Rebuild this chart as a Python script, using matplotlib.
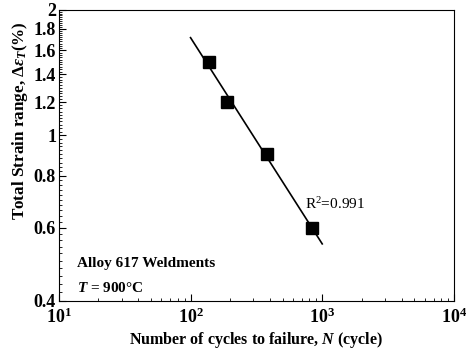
import matplotlib
matplotlib.use('Agg')
import matplotlib.pyplot as plt
import numpy as np
from matplotlib.ticker import FixedLocator, MultipleLocator, NullFormatter, LogLocator

plt.rcParams['font.family'] = 'Liberation Serif'
plt.rcParams['mathtext.fontset'] = 'custom'
plt.rcParams['mathtext.rm'] = 'Liberation Serif'
plt.rcParams['mathtext.it'] = 'Liberation Serif:italic:bold'
plt.rcParams['mathtext.bf'] = 'Liberation Serif:bold'

# cycles to failure and total strain range (%)
cycles = [138, 190, 380, 830]
strain = [1.5, 1.2, 0.9, 0.6]
r_squared = 0.991
y_ticks = [0.4, 0.6, 0.8, 1, 1.2, 1.4, 1.6, 1.8, 2]
y_labels = ['0.4', '0.6', '0.8', '1', '1.2', '1.4', '1.6', '1.8', '2']

fig = plt.figure(figsize=(4.67, 3.54), dpi=100)
ax = fig.add_axes([0.126, 0.150, 0.846, 0.822])

# power-law fit in log-log space
coef = np.polyfit(np.log10(cycles), np.log10(strain), 1)
xfit = np.logspace(2, 3, 50)
yfit = 10 ** np.polyval(coef, np.log10(xfit))
ax.plot(xfit, yfit, 'k-', lw=1.2)
ax.plot(cycles, strain, 's', color='k', ms=8)

ax.set_xscale('log')
ax.set_yscale('log')
ax.set_xlim(10, 1e4)
ax.set_ylim(0.4, 2)

ax.yaxis.set_major_locator(FixedLocator(y_ticks))
ax.set_yticklabels(y_labels)
ax.yaxis.set_minor_locator(MultipleLocator(0.02))
ax.yaxis.set_minor_formatter(NullFormatter())
ax.xaxis.set_major_locator(LogLocator(base=10))
ax.xaxis.set_minor_locator(LogLocator(base=10, subs=np.arange(2, 10)))
ax.xaxis.set_minor_formatter(NullFormatter())

ax.tick_params(which='both', direction='in', top=False, right=False)
ax.tick_params(which='major', length=5, labelsize=13)
ax.tick_params(which='minor', length=2.5)
for lab in ax.get_xticklabels() + ax.get_yticklabels():
    lab.set_fontweight('bold')
ax.tick_params(axis='x', pad=5)
ax.tick_params(axis='y', pad=2)

ax.set_xlabel('Number of cycles to failure, $\\mathit{N}$ (cycle)', fontsize=11.5, fontweight='bold', labelpad=2)
ax.set_ylabel('Total Strain range, $\\mathbf{\\Delta}\\mathit{\\varepsilon_T}$(%)', fontsize=12.3, fontweight='bold')
ax.yaxis.set_label_coords(-0.073, 0.62)

ax.text(740, 0.685, '$\\mathrm{R^2}$=%.3f' % r_squared, fontsize=11, ha='left', va='center')
ax.text(0.045, 0.13, 'Alloy 617 Weldments', transform=ax.transAxes, fontsize=11, fontweight='bold', va='center')
ax.text(0.045, 0.045, '$\\mathit{T}$ = 900°C', transform=ax.transAxes, fontsize=11, fontweight='bold', va='center')

fig.savefig('out.png', dpi=100)
